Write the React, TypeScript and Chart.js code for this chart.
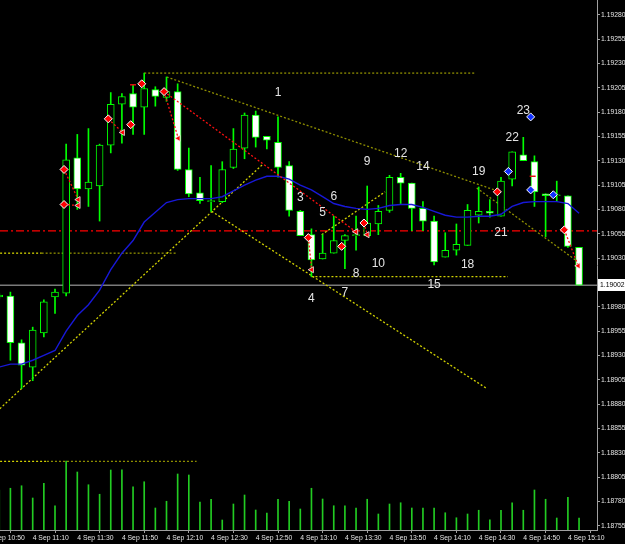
import React, { useEffect, useRef } from "react";
import { Chart, registerables } from "chart.js";

Chart.register(...registerables);

// ---------- axis ranges ----------
const X_MIN = -0.933;
const X_MAX = 52.61;
const Y_MIN = 1.187506;
const Y_MAX = 1.192951;

// ---------- candles: 5-minute bars, index -1 = 4 Sep 10:55 ----------
const FIRST_BAR = -1;
const openPrices = [
  1.1899, 1.18991, 1.18943, 1.18918, 1.18953, 1.1899, 1.18994, 1.19133, 1.19101, 1.19104,
  1.19146, 1.19188, 1.19199, 1.19185, 1.19203, 1.19195, 1.19201, 1.19121, 1.19097, 1.19088,
  1.19088, 1.19123, 1.19143, 1.19177, 1.19155, 1.19149, 1.19125, 1.19078, 1.19054, 1.19029,
  1.19035, 1.19048, 1.19053, 1.19053, 1.19065, 1.19079, 1.19113, 1.19107, 1.19081, 1.19068,
  1.19031, 1.19038, 1.19043, 1.19074, 1.19078, 1.19073, 1.19111, 1.19136, 1.19129, 1.19096,
  1.19094, 1.19094, 1.19041,
];
const highPrices = [
  1.18994, 1.18995, 1.18946, 1.18959, 1.18987, 1.18998, 1.19147, 1.19157, 1.19163, 1.19147,
  1.192, 1.19199, 1.19208, 1.1922, 1.19206, 1.19216, 1.19209, 1.19143, 1.19113, 1.19125,
  1.19129, 1.19163, 1.19179, 1.19181, 1.19155, 1.19175, 1.19129, 1.19079, 1.1906, 1.19054,
  1.19073, 1.19054, 1.19073, 1.19104, 1.19084, 1.19115, 1.19117, 1.19107, 1.19088, 1.19073,
  1.19056, 1.19065, 1.19085, 1.19103, 1.1909, 1.19113, 1.19139, 1.19154, 1.19135, 1.19096,
  1.19109, 1.19094, 1.19041,
];
const lowPrices = [
  1.18988, 1.18925, 1.18896, 1.18904, 1.18949, 1.18973, 1.18991, 1.1908, 1.19083, 1.19068,
  1.19138, 1.19148, 1.19157, 1.19157, 1.19186, 1.19191, 1.1912, 1.19093, 1.19086, 1.19078,
  1.19087, 1.19122, 1.19132, 1.19144, 1.19142, 1.19113, 1.19073, 1.19053, 1.19011, 1.19029,
  1.19035, 1.19019, 1.19038, 1.19052, 1.19054, 1.19077, 1.19086, 1.19058, 1.19058, 1.19023,
  1.19031, 1.19033, 1.19043, 1.19066, 1.19072, 1.19073, 1.19104, 1.1913, 1.19083, 1.19052,
  1.19088, 1.19041, 1.19002,
];
const closePrices = [
  1.18992, 1.18943, 1.1892, 1.18956, 1.18985, 1.18995, 1.19131, 1.19101, 1.19108, 1.19146,
  1.19188, 1.19196, 1.19185, 1.19204, 1.19196, 1.19201, 1.19121, 1.19096, 1.19089, 1.19088,
  1.19121, 1.19142, 1.19177, 1.19154, 1.19151, 1.19123, 1.19079, 1.19053, 1.19028, 1.19035,
  1.19048, 1.19053, 1.19054, 1.19066, 1.19078, 1.19113, 1.19107, 1.19081, 1.19068, 1.19026,
  1.19038, 1.19044, 1.19079, 1.19078, 1.19076, 1.19109, 1.19139, 1.1913, 1.19098, 1.19094,
  1.19094, 1.19042, 1.19002,
];
const maValues = [
  1.18918, 1.18921, 1.18921, 1.18925, 1.1893, 1.18935, 1.18955, 1.18971, 1.18982, 1.18997,
  1.19018, 1.19035, 1.19048, 1.19067, 1.19077, 1.19087, 1.1909, 1.19091, 1.19091, 1.19091,
  1.19093, 1.19099, 1.19105, 1.1911, 1.19114, 1.19114, 1.19111, 1.19105, 1.191, 1.19093,
  1.19086, 1.19083, 1.19081, 1.1908, 1.19081, 1.19084, 1.19085, 1.19085, 1.19082, 1.19078,
  1.19074, 1.19072, 1.19072, 1.19073, 1.19073, 1.19075, 1.19083, 1.19087, 1.19088, 1.19088,
  1.19088, 1.19086, 1.19076,
];
const tickVolumes = [
  160, 167, 177, 128, 187, 97, 276, 232, 181, 143,
  240, 241, 173, 193, 88, 115, 224, 220, 112, 123,
  40, 104, 140, 80, 68, 123, 115, 84, 167, 124,
  97, 97, 88, 123, 64, 104, 109, 88, 88, 88,
  69, 49, 64, 79, 41, 79, 109, 79, 160, 123,
  48, 131, 48,
];
const VOLUME_AXIS_MAX = 2120;

// ---------- reference levels ----------
const CURRENT_PRICE = 1.19002;
const RED_LEVEL = 1.19058;

// ---------- hand-drawn trend lines (bar index, price) ----------
const trendStartBar = [-2, 18.05, 27.92, 14.02, 41.82, 12, -2, 2.8, -2, 3.28, 27];
const trendStartPrice = [1.18864, 1.19078, 1.19054, 1.19216, 1.19102, 1.1922, 1.19035, 1.19035, 1.18821, 1.18821, 1.19011];
const trendEndBar = [22.7, 42.72, 33.6, 43.91, 50.8, 41.67, 2.8, 14.9, 3.28, 16.7, 44.62];
const trendEndPrice = [1.19127, 1.18896, 1.19098, 1.19098, 1.19027, 1.1922, 1.19035, 1.19035, 1.18821, 1.18821, 1.19011];

// ---------- trade history ----------
const openMarkBar = [4.81, 4.81, 8.78, 10.79, 11.78, 13.78, 26.72, 29.71, 31.71, 43.67, 49.68];
const openMarkPrice = [1.19121, 1.19085, 1.19173, 1.19167, 1.19209, 1.19201, 1.19051, 1.19042, 1.19066, 1.19098, 1.19059];
const closeMarkBar = [6.09, 6.09, 10.07, 15.06, 27.02, 30.99, 32.01, 50.93];
const closeMarkPrice = [1.1909, 1.19084, 1.19159, 1.19153, 1.19018, 1.19057, 1.19054, 1.19022];
const buyMarkBar = [44.66, 46.66, 46.66, 48.69];
const buyMarkPrice = [1.19119, 1.19175, 1.191, 1.19095];
const dashMarkBar = [11, 46.84];
const dashMarkPrice = [1.19208, 1.19114];
const tradeFromBar = [4.81, 4.81, 8.78, 13.78, 13.78, 26.72, 31.71, 49.68];
const tradeFromPrice = [1.19121, 1.19085, 1.19173, 1.19201, 1.19201, 1.19051, 1.19066, 1.19059];
const tradeToBar = [6.09, 6.09, 10.07, 15.06, 30.99, 27.02, 32.01, 50.93];
const tradeToPrice = [1.1909, 1.19084, 1.19159, 1.19153, 1.19057, 1.19018, 1.19054, 1.19022];

// ---------- wave count labels ----------
const waveText = ["1", "3", "4", "5", "6", "7", "8", "9", "10", "12", "14", "15", "18", "19", "21", "22", "23"];
const waveBar = [24, 26, 27, 28, 29, 30, 31, 32, 33, 35, 37, 38, 41, 42, 44, 45, 46];
const wavePrice = [1.192, 1.19092, 1.18988, 1.19077, 1.19093, 1.18994, 1.19014, 1.19129, 1.19024, 1.19137, 1.19124, 1.19003, 1.19023, 1.19119, 1.19056, 1.19154, 1.19181];

// ---------- axis ticks ----------
const timeTickBar = [-2, 2, 6, 10, 14, 18, 22, 26, 30, 34, 38, 42, 46, 50];
const timeTickLabels = [
  "4 Sep 10:50", "4 Sep 11:10", "4 Sep 11:30", "4 Sep 11:50", "4 Sep 12:10", "4 Sep 12:30", "4 Sep 12:50",
  "4 Sep 13:10", "4 Sep 13:30", "4 Sep 13:50", "4 Sep 14:10", "4 Sep 14:30", "4 Sep 14:50", "4 Sep 15:10",
];
const priceTicks = [
  1.18755, 1.1878, 1.18805, 1.1883, 1.18855, 1.1888, 1.18905, 1.1893, 1.18955, 1.1898,
  1.1903, 1.19055, 1.1908, 1.19105, 1.1913, 1.19155, 1.1918, 1.19205, 1.1923, 1.19255, 1.1928,
];

// ---------- styles ----------
const LIME = "#00ff00";
const BRIGHT_Y = "#d2d200";
const OLIVE_Y = "#8e8e00";
const trendColors = [BRIGHT_Y, BRIGHT_Y, BRIGHT_Y, OLIVE_Y, OLIVE_Y, OLIVE_Y, BRIGHT_Y, OLIVE_Y, BRIGHT_Y, OLIVE_Y, BRIGHT_Y];
const AXIS_COLOR = "#a0a0a0";
const TEXT_COLOR = "#e4e4e4";
const AXIS_FAMILY = "'Liberation Sans', Arial, sans-serif";
const SMALL_FONT = { family: AXIS_FAMILY, size: 6.8 };

const barIdx = (k: number) => FIRST_BAR + k;

const zeroPad = (s: any) => {
  s.paddingLeft = 0;
  s.paddingRight = 0;
  s.paddingTop = 0;
  s.paddingBottom = 0;
};

const overlayPlugin = {
  id: "mtOverlay",
  afterDatasetsDraw(chart: any) {
    const { ctx, chartArea, scales } = chart;
    const x = scales.x;
    const y = scales.y;
    ctx.save();
    ctx.beginPath();
    ctx.rect(chartArea.left, chartArea.top, chartArea.right - chartArea.left, chartArea.bottom - chartArea.top);
    ctx.clip();
    ctx.font = "12px 'Liberation Sans', Arial, sans-serif";
    ctx.fillStyle = TEXT_COLOR;
    ctx.textAlign = "center";
    ctx.textBaseline = "middle";
    waveText.forEach((t, k) => {
      ctx.fillText(t, x.getPixelForValue(waveBar[k]), y.getPixelForValue(wavePrice[k]));
    });
    ctx.restore();
  },
  afterDraw(chart: any) {
    const { ctx, chartArea, scales } = chart;
    const py = scales.y.getPixelForValue(CURRENT_PRICE);
    ctx.save();
    ctx.fillStyle = "#ffffff";
    ctx.fillRect(chartArea.right + 1, Math.round(py) - 6, 30, 12);
    ctx.fillStyle = "#000000";
    ctx.font = "6.8px " + AXIS_FAMILY;
    ctx.textAlign = "left";
    ctx.textBaseline = "middle";
    ctx.fillText(CURRENT_PRICE.toFixed(5), chartArea.right + 3, py);
    ctx.restore();
  },
};

function buildConfig(): any {
  const datasets: any[] = [];

  datasets.push({
    type: "bar",
    label: "Volume",
    yAxisID: "yv",
    data: tickVolumes.map((v, k) => ({ x: barIdx(k), y: v })),
    backgroundColor: "#22cc22",
    barThickness: 1,
    grouped: false,
    order: 100,
  });

  datasets.push({
    type: "line",
    label: "level",
    data: [{ x: X_MIN, y: RED_LEVEL }, { x: X_MAX, y: RED_LEVEL }],
    borderColor: "#ff0000",
    borderWidth: 1.3,
    borderDash: [8, 3, 2, 3],
    pointRadius: 0,
    order: 95,
  });
  datasets.push({
    type: "line",
    label: "bid",
    data: [{ x: X_MIN, y: CURRENT_PRICE }, { x: X_MAX, y: CURRENT_PRICE }],
    borderColor: "#7a7a7a",
    borderWidth: 1.5,
    pointRadius: 0,
    order: 95,
  });

  trendStartBar.forEach((b, k) => {
    datasets.push({
      type: "line",
      label: "trend" + k,
      data: [
        { x: b, y: trendStartPrice[k] },
        { x: trendEndBar[k], y: trendEndPrice[k] },
      ],
      borderColor: trendColors[k],
      borderWidth: 1.3,
      borderDash: [2, 2],
      pointRadius: 0,
      order: 90,
    });
  });

  datasets.push({
    type: "bar",
    label: "wick",
    data: highPrices.map((h, k) => ({ x: barIdx(k), y: [lowPrices[k], h] })),
    backgroundColor: LIME,
    borderWidth: 0,
    barThickness: 1,
    grouped: false,
    minBarLength: 1,
    order: 60,
  });

  datasets.push({
    type: "bar",
    label: "body",
    data: openPrices.map((o, k) => ({ x: barIdx(k), y: [o, closePrices[k]] })),
    backgroundColor: (c: any) => {
      const k = c.dataIndex;
      return closePrices[k] < openPrices[k] ? "#ffffff" : "#000000";
    },
    borderColor: LIME,
    borderWidth: 1,
    borderSkipped: false,
    barThickness: 7,
    grouped: false,
    minBarLength: 1,
    order: 55,
  });

  datasets.push({
    type: "line",
    label: "MA",
    data: maValues.map((v, k) => ({ x: barIdx(k), y: v })),
    borderColor: "#1818d8",
    borderWidth: 1.4,
    pointRadius: 0,
    tension: 0,
    order: 40,
  });

  tradeFromBar.forEach((b, k) => {
    datasets.push({
      type: "line",
      label: "trade" + k,
      data: [
        { x: b, y: tradeFromPrice[k] },
        { x: tradeToBar[k], y: tradeToPrice[k] },
      ],
      borderColor: "#ff1010",
      borderWidth: 1.3,
      borderDash: [2, 2],
      pointRadius: 0,
      order: 30,
    });
  });

  datasets.push({
    type: "line",
    label: "sell open",
    data: openMarkBar.map((b, k) => ({ x: b, y: openMarkPrice[k] })),
    showLine: false,
    pointStyle: "rectRot",
    pointRadius: 4,
    pointBackgroundColor: "#ff0000",
    pointBorderColor: "#ffffff",
    pointBorderWidth: 1,
    order: 20,
  });
  datasets.push({
    type: "line",
    label: "close",
    data: closeMarkBar.map((b, k) => ({ x: b, y: closeMarkPrice[k] })),
    showLine: false,
    pointStyle: "triangle",
    pointRotation: -90,
    pointRadius: 3.5,
    pointBackgroundColor: "#ff0000",
    pointBorderColor: "#f0f0f0",
    pointBorderWidth: 0.8,
    order: 20,
  });
  datasets.push({
    type: "line",
    label: "buy open",
    data: buyMarkBar.map((b, k) => ({ x: b, y: buyMarkPrice[k] })),
    showLine: false,
    pointStyle: "rectRot",
    pointRadius: 4,
    pointBackgroundColor: "#1030ff",
    pointBorderColor: "#ffffff",
    pointBorderWidth: 1,
    order: 20,
  });
  datasets.push({
    type: "line",
    label: "dash",
    data: dashMarkBar.map((b, k) => ({ x: b, y: dashMarkPrice[k] })),
    showLine: false,
    pointStyle: "line",
    pointRadius: 3,
    pointBorderColor: "#e01010",
    pointBorderWidth: 1.5,
    order: 20,
  });

  return {
    type: "bar",
    data: { datasets },
    plugins: [overlayPlugin],
    options: {
      responsive: false,
      animation: false,
      devicePixelRatio: 1,
      layout: { padding: 0, autoPadding: false },
      plugins: { legend: { display: false }, tooltip: { enabled: false } },
      events: [],
      scales: {
        x: {
          type: "linear",
          position: "bottom",
          min: X_MIN,
          max: X_MAX,
          bounds: "data",
          offset: false,
          afterBuildTicks: (s: any) => {
            s.ticks = timeTickBar.map((v) => ({ value: v }));
          },
          afterFit: (s: any) => {
            s.height = 14;
            zeroPad(s);
          },
          ticks: {
            autoSkip: false,
            maxRotation: 0,
            minRotation: 0,
            align: "start",
            color: TEXT_COLOR,
            font: SMALL_FONT,
            padding: 1,
            callback: (_v: any, i: number) => timeTickLabels[i],
          },
          grid: { drawOnChartArea: false, drawTicks: true, tickLength: 3, color: AXIS_COLOR },
          border: { display: true, color: AXIS_COLOR, width: 1 },
        },
        y: {
          type: "linear",
          position: "right",
          min: Y_MIN,
          max: Y_MAX,
          bounds: "data",
          beginAtZero: false,
          afterBuildTicks: (s: any) => {
            s.ticks = priceTicks.map((v) => ({ value: v }));
          },
          afterFit: (s: any) => {
            s.width = 28;
            zeroPad(s);
          },
          ticks: {
            autoSkip: false,
            color: TEXT_COLOR,
            font: SMALL_FONT,
            padding: 1,
            callback: (v: any) => Number(v).toFixed(5),
          },
          grid: { drawOnChartArea: false, drawTicks: true, tickLength: 3, color: AXIS_COLOR },
          border: { display: true, color: AXIS_COLOR, width: 1 },
        },
        yv: {
          type: "linear",
          display: false,
          position: "right",
          min: 0,
          max: VOLUME_AXIS_MAX,
          afterFit: (s: any) => {
            s.width = 0;
            zeroPad(s);
          },
        },
      },
    },
  };
}

export default function App() {
  const ref = useRef<HTMLCanvasElement>(null);
  useEffect(() => {
    document.body.style.margin = "0";
    document.body.style.background = "#000";
    const chart = new Chart(ref.current as HTMLCanvasElement, buildConfig());
    return () => chart.destroy();
  }, []);
  return (
    <div style={{ position: "fixed", left: 0, top: 0, width: 625, height: 544, background: "#000" }}>
      <canvas ref={ref} width={625} height={544} style={{ display: "block" }} />
    </div>
  );
}
